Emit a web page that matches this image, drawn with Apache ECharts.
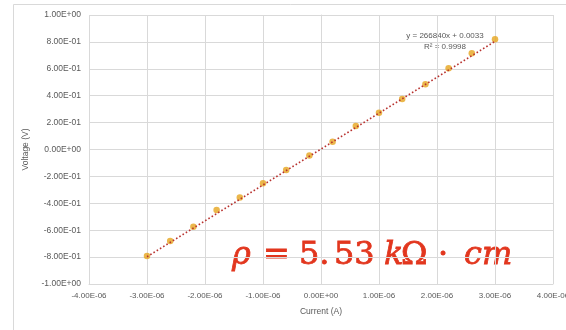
<!DOCTYPE html>
<html>
<head>
<meta charset="utf-8">
<script src="https://cdn.jsdelivr.net/npm/echarts@6/dist/echarts.min.js"></script>
<style>html,body{margin:0;padding:0;background:#fff}#c{width:566px;height:330px}</style>
</head>
<body>
<div id="c"></div>
<script>
// Data
const currentA = [-3.0e-6, -2.6e-6, -2.2e-6, -1.8e-6, -1.4e-6, -1.0e-6, -0.6e-6, -0.2e-6,
                  0.2e-6, 0.6e-6, 1.0e-6, 1.4e-6, 1.8e-6, 2.2e-6, 2.6e-6, 3.0e-6];
const voltageV = [-0.792, -0.680, -0.574, -0.450, -0.356, -0.251, -0.152, -0.044,
                  0.058, 0.175, 0.274, 0.375, 0.485, 0.604, 0.715, 0.819];
// Trendline endpoints (from the fitted equation shown on the chart)
const trendX = [-3.0e-6, 3.0e-6];
const trendY = [-0.7972, 0.8038];
const equationText = 'y = 266840x + 0.0033';
const r2Text = 'R² = 0.9998';
const xTickMin = -4e-6, xTickMax = 4e-6, xTickStep = 1e-6;
const yTickMin = -1, yTickMax = 1, yTickStep = 0.2;

function sci(v) {
  let s = Number(v.toPrecision(10)).toExponential(2).toUpperCase();
  return s.replace(/E([+-])(\d+)$/, (m, sg, d) => 'E' + sg + (d.length < 2 ? '0' + d : d));
}

const chart = echarts.init(document.getElementById('c'), null, {renderer: 'canvas'});
const gridColor = '#d9d9d9';
const red = '#E2361E';
const mathFont = 'DejaVu Serif';

function mathText(x, str, italic) {
  return {type: 'text', x: x, y: 240, silent: true,
    style: {text: str, fill: red, stroke: red, lineWidth: 0.8, verticalAlign: 'alphabetic',
      font: (italic ? 'italic ' : '') + '32px "' + mathFont + '"'}};
}

chart.setOption({
  backgroundColor: '#ffffff',
  animation: false,
  grid: {left: 89, right: 13, top: 15, bottom: 46, containLabel: false, outerBoundsMode: 'none'},
  xAxis: {
    type: 'value', min: xTickMin, max: xTickMax, interval: xTickStep,
    name: 'Current (A)', nameLocation: 'middle', nameGap: 23,
    nameTextStyle: {color: '#595959', fontSize: 8.5, fontFamily: 'Liberation Sans'},
    axisLine: {show: true, onZero: false, lineStyle: {color: gridColor}},
    axisTick: {show: false},
    axisLabel: {margin: 8, formatter: sci, color: '#595959', fontSize: 8, fontFamily: 'Liberation Sans'},
    splitLine: {show: true, lineStyle: {color: gridColor, width: 1}}
  },
  yAxis: {
    type: 'value', min: yTickMin, max: yTickMax, interval: yTickStep,
    name: 'Voltage (V)', nameLocation: 'middle', nameGap: 53,
    nameTextStyle: {color: '#595959', fontSize: 8.5, fontFamily: 'Liberation Sans'},
    axisLine: {show: true, lineStyle: {color: gridColor}},
    axisTick: {show: false},
    axisLabel: {margin: 8, formatter: sci, color: '#595959', fontSize: 8.5, fontFamily: 'Liberation Sans'},
    splitLine: {show: true, lineStyle: {color: gridColor, width: 1}}
  },
  series: [
    {
      type: 'scatter',
      data: currentA.map((x, i) => [x, voltageV[i]]),
      symbol: 'circle', symbolSize: 6.5,
      itemStyle: {color: '#E6A51E'},
      z: 2
    },
    {
      type: 'line',
      data: trendX.map((x, i) => [x, trendY[i]]),
      symbol: 'none',
      lineStyle: {color: '#B8322F', width: 1.6, type: [1.6, 2.2]},
      z: 3, silent: true
    }
  ],
  graphic: [
    {type: 'rect', shape: {x: 13.5, y: 4.5, width: 700, height: 500},
     style: {fill: 'none', stroke: '#d9d9d9', lineWidth: 1}, silent: true},
    {type: 'text', x: 445, y: 36, style: {text: equationText, fill: '#595959', font: '8px Liberation Sans', align: 'center', verticalAlign: 'middle'}},
    {type: 'text', x: 445, y: 47, style: {text: r2Text, fill: '#595959', font: '8px Liberation Sans', align: 'center', verticalAlign: 'middle'}},
    mathText(232, 'ρ', true),
    mathText(263, '=', false),
    mathText(299, '5.', false),
    mathText(334, '53', false),
    mathText(384, 'k', true),
    mathText(401, 'Ω', false),
    mathText(438, '·', false),
    mathText(464, 'cm', true)
  ]
});
</script>
</body>
</html>
